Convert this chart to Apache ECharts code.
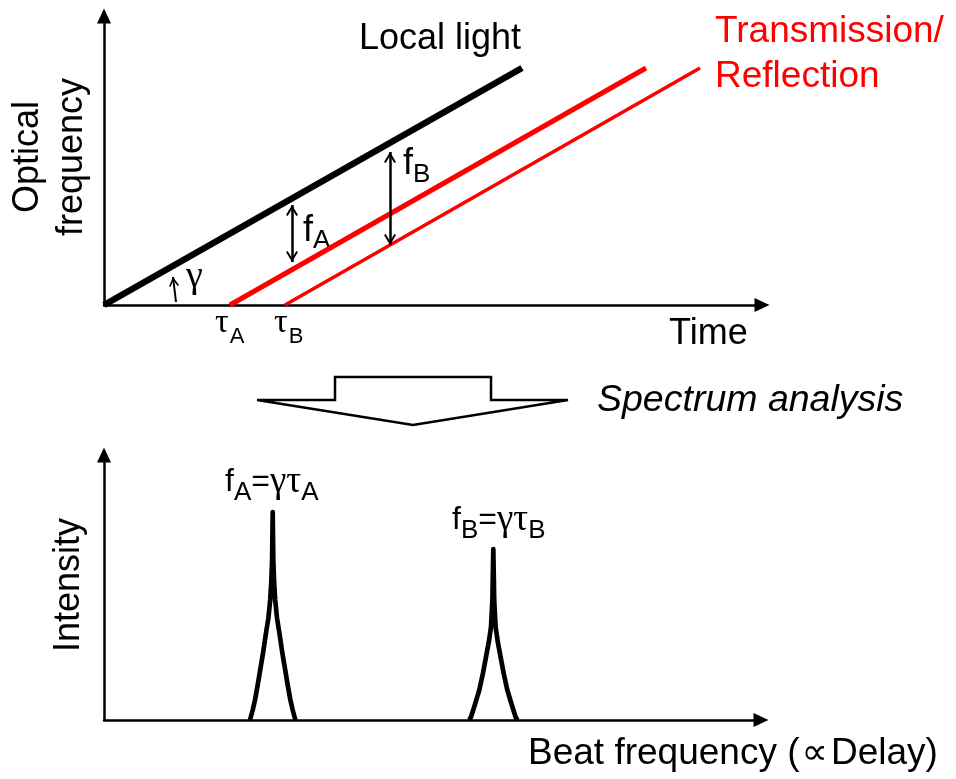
<!DOCTYPE html>
<html><head><meta charset="utf-8">
<script src="https://cdn.jsdelivr.net/npm/echarts@6/dist/echarts.min.js"></script>
<style>html,body{margin:0;padding:0;background:#fff}#chart{width:956px;height:779px}</style>
</head><body><div id="chart"></div>
<script>
// ---- Upper panel: optical frequency sweep vs. time (plot units) ----
const localLight = [[0, 0], [418, 237]];
const echoA = [[126, 0], [542, 237]];
const echoB = [[181, 0], [596, 237]];
// beat-frequency markers: [x, top, bottom]
const beatA = [188, 100, 43];
const beatB = [286, 153, 60];
// sweep-rate marker (gamma)
const gammaArrow = [[72, 3], [69, 28]];

// ---- Lower panel: beat spectrum (plot units) ----
const peakA = [
  [146, 0], [148.7, 10], [151, 20], [153.7, 35], [156.7, 53], [159.2, 68], [162, 87],
  [164.4, 102], [166.2, 120], [167.3, 138], [168.1, 160], [168.7, 208],
  [169.3, 160], [170.1, 138], [171.2, 120], [173, 102], [175.4, 87], [178.2, 68],
  [180.7, 53], [183.7, 35], [186.4, 20], [188.7, 10], [191.4, 0]
];
const peakB = [
  [365.3, 0], [367, 3], [370.8, 15], [375.3, 30], [378.8, 46], [382, 63], [384.8, 78],
  [387, 93], [388.4, 120], [389.3, 171], [390.2, 120], [391.6, 93], [393.8, 78],
  [396.6, 63], [399.8, 46], [403.3, 30], [407.8, 15], [411.6, 3], [413.3, 0]
];

// ---- Block arrow between the panels (page units) ----
const blockArrow = [
  [257, 400], [335, 400], [335, 377], [491, 377], [491, 400], [568, 400], [413, 425], [257, 400]
];

const SANS = '"Liberation Sans", Arial, sans-serif';
const SERIF = '"Liberation Serif", "Times New Roman", serif';
// open chevron head; the tip sits at the symbol centre
const CHEVRON = 'path://M7,-13.2 L7.01,-13.2 Z M0,12 L7,0 L14,12 L12,13.2 L7,4.5 L2,13.2 Z';

const axisArrow = {
  show: true,
  symbol: ['none', 'triangle'],
  symbolSize: [14, 15],
  lineStyle: { color: '#000', width: 2.5 }
};
function plotAxis(gridIndex, max) {
  return {
    type: 'value', gridIndex, min: 0, max,
    axisLine: axisArrow, axisTick: { show: false }, axisLabel: { show: false },
    splitLine: { show: false }
  };
}
function hiddenAxis(max, inverse) {
  return { type: 'value', gridIndex: 2, min: 0, max, inverse: !!inverse, show: false };
}
function subLabel(x, y, text, rich) {
  return { type: 'text', x, y, style: { text, align: 'left', verticalAlign: 'middle', rich } };
}

const chart = echarts.init(document.getElementById('chart'), null, { renderer: 'canvas' });

const topSubRich = {
  m: { fontSize: 36, fontFamily: SANS, fill: '#000' },
  s: { fontSize: 26, fontFamily: SANS, fill: '#000', padding: [20, 0, 0, 0] }
};
const tauRich = {
  g: { fontSize: 34, fontFamily: SERIF, fill: '#000' },
  s: { fontSize: 22, fontFamily: SANS, fill: '#000', padding: [27, 0, 0, 1] }
};
const peakRich = {
  m: { fontSize: 32, fontFamily: SANS, fill: '#000' },
  g: { fontSize: 37, fontFamily: SERIF, fill: '#000' },
  s: { fontSize: 26, fontFamily: SANS, fill: '#000', padding: [21, 0, 0, 0] }
};

const option = {
  animation: false,
  backgroundColor: '#fff',
  grid: [
    { left: 104, top: 16, right: 194, bottom: 474, outerBoundsMode: 'none' },
    { left: 104, top: 455, right: 195, bottom: 59, outerBoundsMode: 'none' },
    { left: 0, top: 0, right: 0, bottom: 0, outerBoundsMode: 'none' }
  ],
  xAxis: [plotAxis(0, 658), plotAxis(1, 657), hiddenAxis(956)],
  yAxis: [plotAxis(0, 289), plotAxis(1, 265), hiddenAxis(779, true)],
  series: [
    {
      type: 'line', name: 'Local light', xAxisIndex: 0, yAxisIndex: 0,
      data: localLight, symbol: 'none', z: 3,
      lineStyle: { color: '#000', width: 6.5 },
      markLine: {
        silent: true, animation: false,
        symbol: [CHEVRON, CHEVRON], symbolSize: [12, 22],
        lineStyle: { color: '#000', width: 2.5, type: 'solid' },
        label: { show: false },
        data: [
          [{ coord: [beatA[0], beatA[1]] }, { coord: [beatA[0], beatA[2]] }],
          [{ coord: [beatB[0], beatB[1]] }, { coord: [beatB[0], beatB[2]] }]
        ]
      }
    },
    {
      type: 'line', name: 'Echo A', xAxisIndex: 0, yAxisIndex: 0,
      data: echoA, symbol: 'none', z: 2,
      lineStyle: { color: '#ff0000', width: 5 },
      markLine: {
        silent: true, animation: false,
        symbol: ['none', CHEVRON], symbolSize: [10, 19],
        lineStyle: { color: '#000', width: 2, type: 'solid', curveness: 0.15 },
        label: { show: false },
        data: [[{ coord: gammaArrow[0] }, { coord: gammaArrow[1] }]]
      }
    },
    {
      type: 'line', name: 'Echo B', xAxisIndex: 0, yAxisIndex: 0,
      data: echoB, symbol: 'none', z: 2,
      lineStyle: { color: '#ff0000', width: 3.5 }
    },
    {
      type: 'line', name: 'Peak A', xAxisIndex: 1, yAxisIndex: 1,
      data: peakA, symbol: 'none',
      lineStyle: { color: '#000', width: 4.7, join: 'round' }
    },
    {
      type: 'line', name: 'Peak B', xAxisIndex: 1, yAxisIndex: 1,
      data: peakB, symbol: 'none',
      lineStyle: { color: '#000', width: 4.7, join: 'round' }
    },
    {
      type: 'line', name: 'Block arrow', xAxisIndex: 2, yAxisIndex: 2,
      data: blockArrow, symbol: 'none',
      lineStyle: { color: '#000', width: 2.5, join: 'miter' }
    }
  ],
  graphic: [
    { type: 'text', x: 359, y: 39.5, style: { text: 'Local light', font: '36px ' + SANS, fill: '#000', align: 'left', verticalAlign: 'middle' } },
    { type: 'text', x: 715, y: 32, style: { text: 'Transmission/', font: '37px ' + SANS, fill: '#ff0000', align: 'left', verticalAlign: 'middle' } },
    { type: 'text', x: 715, y: 77, style: { text: 'Reflection', font: '37px ' + SANS, fill: '#ff0000', align: 'left', verticalAlign: 'middle' } },
    { type: 'text', x: 28.5, y: 157, rotation: Math.PI / 2, style: { text: 'Optical', font: '36px ' + SANS, fill: '#000', align: 'center', verticalAlign: 'middle' } },
    { type: 'text', x: 72.5, y: 157, rotation: Math.PI / 2, style: { text: 'frequency', font: '36px ' + SANS, fill: '#000', align: 'center', verticalAlign: 'middle' } },
    { type: 'text', x: 669, y: 334, style: { text: 'Time', font: '36px ' + SANS, fill: '#000', align: 'left', verticalAlign: 'middle' } },
    { type: 'text', x: 186, y: 277, style: { text: 'γ', font: '38px ' + SERIF, fill: '#000', align: 'left', verticalAlign: 'middle' } },
    subLabel(303, 231, '{m|f}{s|A}', topSubRich),
    subLabel(403, 164.5, '{m|f}{s|B}', topSubRich),
    subLabel(215, 323, '{g|τ}{s|A}', tauRich),
    subLabel(274, 323, '{g|τ}{s|B}', tauRich),
    { type: 'text', x: 597, y: 401, style: { text: 'Spectrum analysis', font: 'italic 37.5px ' + SANS, fill: '#000', align: 'left', verticalAlign: 'middle' } },
    { type: 'text', x: 69, y: 585, rotation: Math.PI / 2, style: { text: 'Intensity', font: '36px ' + SANS, fill: '#000', align: 'center', verticalAlign: 'middle' } },
    subLabel(225, 482, '{m|f}{s|A}{m|=}{g|γτ}{s|A}', peakRich),
    subLabel(452, 520.5, '{m|f}{s|B}{m|=}{g|γτ}{s|B}', peakRich),
    subLabel(528, 754, '{m|Beat frequency (}{p|∝}{m|Delay)}', {
      m: { fontSize: 37, fontFamily: SANS, fill: '#000' },
      p: { fontSize: 37, fontFamily: '"DejaVu Sans", sans-serif', fill: '#000', padding: [0, 3, 0, 2] }
    })
  ]
};
chart.setOption(option);
</script>
</body></html>
